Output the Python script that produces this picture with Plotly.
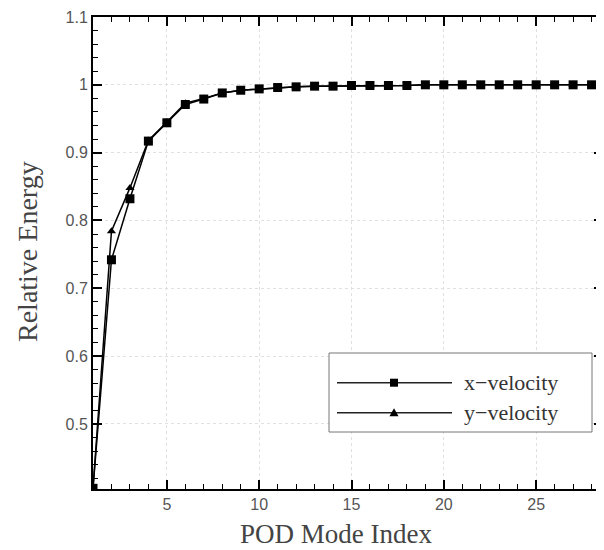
import plotly.graph_objects as go

mode_index = list(range(1, 29))
x_velocity = [0.405, 0.742, 0.832, 0.917, 0.944, 0.971, 0.979, 0.988, 0.992, 0.994,
              0.996, 0.997, 0.998, 0.998, 0.999, 0.999, 0.999, 0.999, 1.0, 1.0,
              1.0, 1.0, 1.0, 1.0, 1.0, 1.0, 1.0, 1.0]
y_velocity = [0.405, 0.784, 0.848, 0.918, 0.945, 0.973, 0.980, 0.988, 0.992, 0.994,
              0.996, 0.997, 0.998, 0.998, 0.999, 0.999, 0.999, 0.999, 1.0, 1.0,
              1.0, 1.0, 1.0, 1.0, 1.0, 1.0, 1.0, 1.0]
series_names = ["x\u2212velocity", "y\u2212velocity"]
x_title = "POD Mode Index"
y_title = "Relative Energy"
x_ticks = [5, 10, 15, 20, 25]
y_ticks = [0.5, 0.6, 0.7, 0.8, 0.9, 1.0, 1.1]
y_tick_text = ["0.5", "0.6", "0.7", "0.8", "0.9", "1", "1.1"]

fig = go.Figure()
fig.add_trace(go.Scatter(x=mode_index, y=y_velocity, mode="lines+markers", name=series_names[1],
                         line=dict(color="black", width=1.5),
                         marker=dict(symbol="triangle-up", size=8, color="black"),
                         showlegend=False))
fig.add_trace(go.Scatter(x=mode_index, y=x_velocity, mode="lines+markers", name=series_names[0],
                         line=dict(color="black", width=1.5),
                         marker=dict(symbol="square", size=9, color="black"),
                         showlegend=False))

# the page body has an 8px default margin, so the figure is offset by 8px
OFF = 8
W, H = 604 - OFF, 550 - OFF
L, R, T, B = 93 - OFF, 603 - OFF, 17 - OFF, 489 - OFF


def px(xp):
    return (xp - OFF - L) / (R - L)


def py(yp):
    return (B - (yp - OFF)) / (B - T)


shapes = []
# legend box
shapes.append(dict(type="rect", xref="paper", yref="paper", x0=px(329), x1=px(592), y0=py(432), y1=py(353),
                   line=dict(color="#777", width=1), fillcolor="white", layer="above"))
legend_rows = [382.7, 412.7]
for yy in legend_rows:
    shapes.append(dict(type="line", xref="paper", yref="paper", x0=px(337), x1=px(452), y0=py(yy), y1=py(yy),
                       line=dict(color="#222", width=1.5), layer="above"))
# square marker
shapes.append(dict(type="rect", xref="paper", yref="paper", x0=px(390), x1=px(398),
                   y0=py(legend_rows[0] + 4), y1=py(legend_rows[0] - 4),
                   line=dict(color="black", width=0), fillcolor="black", layer="above"))
# triangle marker
ty = legend_rows[1]
path = "M {} {} L {} {} L {} {} Z".format(px(389.5), py(ty + 3.5), px(398.5), py(ty + 3.5), px(394), py(ty - 4.5))
shapes.append(dict(type="path", xref="paper", yref="paper", path=path,
                   line=dict(color="black", width=0), fillcolor="black", layer="above"))

serif = "Liberation Serif, DejaVu Serif, serif"
annotations = []
for name, yy in zip(series_names, legend_rows):
    annotations.append(dict(x=px(462), y=py(yy), xref="paper", yref="paper", text=name, showarrow=False,
                            xanchor="left", yanchor="middle",
                            font=dict(family=serif, size=22, color="#333")))
annotations.append(dict(x=px(336), y=py(549.5), xref="paper", yref="paper", text=x_title, showarrow=False,
                        xanchor="center", yanchor="bottom", borderpad=0,
                        font=dict(family=serif, size=27, color="#444")))
annotations.append(dict(x=px(27), y=py(252), xref="paper", yref="paper", text=y_title, showarrow=False,
                        textangle=-90, xanchor="center", yanchor="middle",
                        font=dict(family=serif, size=28, color="#444")))

axis_common = dict(showline=True, linecolor="black", linewidth=2, mirror="ticks",
                   ticks="inside", ticklen=9, tickwidth=2, tickcolor="black",
                   showgrid=True, gridcolor="#e0e0e0", griddash="dot", gridwidth=1,
                   zeroline=False, automargin=False,
                   tickfont=dict(family="Liberation Sans, Arial, sans-serif", size=16, color="#555"))

fig.update_layout(
    width=W, height=H,
    margin=dict(l=L, r=W - R, t=T, b=H - B),
    plot_bgcolor="white", paper_bgcolor="white",
    shapes=shapes, annotations=annotations,
    xaxis=dict(range=[1, 28.62], tickvals=x_ticks,
               minor=dict(dtick=1, tick0=0, ticks="inside", ticklen=5, tickwidth=1, tickcolor="black", showgrid=False),
               **axis_common),
    yaxis=dict(range=[0.404, 1.1], tickvals=y_ticks, ticktext=y_tick_text,
               minor=dict(dtick=0.02, tick0=0, ticks="inside", ticklen=5, tickwidth=1, tickcolor="black", showgrid=False),
               **axis_common),
)

fig.write_html("out.html")
